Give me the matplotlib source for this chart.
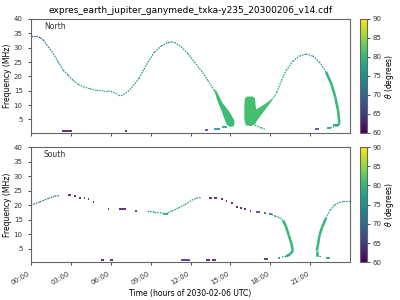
import numpy as np
import matplotlib
matplotlib.use('Agg')
import matplotlib.pyplot as plt
from matplotlib.collections import LineCollection
from matplotlib.colors import Normalize

# =============================================================================
# Data (time in hours of 2030-02-06, frequency in MHz, theta in degrees)
# =============================================================================

title = 'expres_earth_jupiter_ganymede_txka-y235_20300206_v14.cdf'
hemispheres = ['North', 'South']
tick_hours = [0, 3, 6, 9, 12, 15, 18, 21]
tick_labels = ['00:00', '03:00', '06:00', '09:00', '12:00', '15:00', '18:00', '21:00']

# --- North: thin tracks (nan separates tracks)
north_t = [0.0, 0.4, 0.7, 0.93, 1.3, 1.68, 2.05, 2.43, 2.8, 3.18, 3.56, 3.93, 4.44, 4.94, 5.4, 5.8,
           6.19, 6.56, 6.94, 7.3, 7.7, 8.14, 8.5, 8.8, 9.3, 9.8, 10.3, 10.55, 10.8, 11.3, 11.8,
           12.3, 12.8, 13.3, 13.8, np.nan,
           18.25, 18.5, 18.85, 19.2, 19.7, 20.2, 20.7, 21.2, 21.7, 22.2, np.nan,
           23.0, 22.5, np.nan,
           16.85, 17.3, 17.6]
north_f = [34.0, 34.0, 33.5, 32.6, 30.3, 28.0, 25.0, 22.1, 20.4, 18.6, 17.2, 16.4, 15.7, 15.1, 15.0, 15.0,
           14.5, 13.7, 13.7, 14.7, 16.8, 19.4, 22.5, 25.0, 28.5, 30.6, 31.8, 32.0, 31.8, 30.3, 28.0,
           25.0, 22.1, 18.6, 15.1, np.nan,
           12.6, 14.5, 18.6, 22.1, 25.3, 27.1, 27.8, 27.1, 25.0, 21.5, np.nan,
           2.8, 2.1, np.nan,
           3.0, 2.1, 1.6]
north_th = [68, 68, 69, 71, 73, 74, 75, 75, 76, 76, 77, 77, 77, 77, 77, 77,
            76, 76, 76, 76, 76, 76, 75, 75, 75, 74, 73, 72, 73, 74, 75,
            75, 76, 77, 79, np.nan,
            80, 78, 77, 76, 76, 75, 75, 75, 76, 78, np.nan,
            77, 76, np.nan,
            77, 76, 76]

# --- North: thick tracks
north_thick_t = [22.2, 22.6, 22.9, 23.1, 23.2, 23.15, 23.0]
north_thick_f = [21.5, 17.4, 12.7, 8.1, 4.0, 3.2, 2.8]
north_thick_th = [79, 80, 80, 80, 80, 79, 78]

# --- North: short dashes (frequency, start, end, theta)
north_dash_f = [0.9, 0.9, 1.3, 1.8, 2.3, 1.6, 2.1, 3.0]
north_dash_t0 = [2.3, 7.07, 13.1, 13.8, 14.35, 21.35, 22.3, 22.75]
north_dash_t1 = [3.1, 7.2, 13.3, 14.2, 14.75, 21.7, 22.6, 23.0]
north_dash_th = [61, 61, 67, 75, 76, 67, 76, 77]

# --- North: filled emission regions
band_t = [13.75, 14.08, 14.38, 14.6, 14.72, 14.9, 15.2, 15.3, 15.3, 14.96, 14.4, 13.95]
band_f = [15.5, 10.8, 7.5, 4.6, 3.3, 2.5, 2.5, 3.3, 4.6, 7.5, 10.8, 15.0]
band_th = 80.5
blob_t = [16.25, 16.7, 16.85, 16.9, 16.95, 17.6, 18.25, 18.2, 17.6, 17.0, 16.85, 16.5, 16.15, 16.05, 16.05, 16.1]
blob_f = [13.0, 13.0, 12.3, 10.0, 8.5, 10.4, 12.6, 12.0, 8.3, 4.6, 3.2, 2.7, 3.0, 5.0, 10.0, 12.4]
blob_th = 81

# --- South: thin tracks
south_t = [0.0, 0.68, 1.3, 1.8, 2.13, np.nan,
           8.7, 9.2, 9.3, 9.95, 10.3, 10.6, 11.1, 11.6, 12.1, 12.45, 12.8, np.nan,
           18.1, 18.35, 18.7, 18.97, np.nan,
           19.2, 18.8, np.nan,
           22.2, 22.5, 22.85, 23.2, 23.5, 24.0, np.nan,
           21.5, 21.85]
south_f = [20.0, 21.1, 22.3, 23.1, 23.3, np.nan,
           17.8, 17.8, 17.4, 17.3, 17.3, 18.0, 19.0, 20.2, 21.7, 22.4, 22.6, np.nan,
           16.8, 16.2, 15.7, 14.7, np.nan,
           2.3, 2.1, np.nan,
           15.5, 18.2, 20.0, 20.9, 21.25, 21.25, np.nan,
           2.5, 2.2]
south_th = [71, 71, 71, 71, 70, np.nan,
            72, 73, 76, 77, 78, 78, 77, 77, 76, 74, 71, np.nan,
            72, 73, 75, 78, np.nan,
            76, 76, np.nan,
            78, 77, 76, 76, 75, 75, np.nan,
            77, 77]

# --- South: thick tracks
south_thick_t = [18.97, 19.2, 19.4, 19.6, 19.7, 19.5, 19.2, np.nan,
                 21.5, 21.5, 21.6, 21.7, 21.9, 22.2]
south_thick_f = [14.7, 12.4, 9.5, 6.6, 4.3, 3.1, 2.3, np.nan,
                 2.5, 4.3, 6.6, 9.5, 12.4, 15.5]
south_thick_th = [79, 80, 80, 80, 80, 79, 77, np.nan,
                  79, 80, 80, 80, 80, 79]

# --- South: short dashes
south_dash_f = [23.3, 23.0, 22.6, 22.3, 21.95, 21.1, 18.8, 18.5, 18.1,
                17.1, 22.6, 22.3, 21.95, 21.4, 20.6, 19.5, 19.0, 18.8, 18.1,
                17.6, 17.3, 16.8, 1.9, 1.4, 1.7,
                1.05, 1.05, 1.05, 1.05, 1.05]
south_dash_t0 = [2.8, 3.25, 3.6, 3.97, 4.27, 4.65, 5.77, 6.64, 7.8,
                 9.9, 13.4, 13.8, 14.3, 14.67, 15.07, 15.45, 15.75, 16.05, 16.45,
                 16.95, 17.5, 17.9, 18.55, 17.5, 22.2,
                 5.3, 5.94, 11.3, 13.2, 13.65]
south_dash_t1 = [3.0, 3.4, 3.75, 4.06, 4.36, 4.74, 5.86, 7.14, 8.0,
                 10.3, 13.6, 14.0, 14.42, 14.76, 15.16, 15.55, 15.85, 16.15, 16.55,
                 17.2, 17.7, 18.1, 18.7, 17.8, 22.5,
                 5.5, 6.14, 11.95, 13.5, 13.9]
south_dash_th = [61, 61, 61, 61, 61, 61, 61, 61, 62,
                 78, 61, 61, 61, 61, 61, 61, 61, 61, 61,
                 65, 68, 72, 75, 62, 76,
                 61, 61, 63, 61, 61]

# =============================================================================
# Plot
# =============================================================================

cmap = plt.get_cmap('viridis')
norm = Normalize(vmin=60, vmax=90)


def add_track(ax, t, f, th, lw, ls='-'):
    t = np.asarray(t, dtype=float)
    f = np.asarray(f, dtype=float)
    th = np.asarray(th, dtype=float)
    segs, cols = [], []
    for i in range(len(t) - 1):
        if np.isnan(t[i]) or np.isnan(t[i + 1]):
            continue
        segs.append([(t[i], f[i]), (t[i + 1], f[i + 1])])
        cols.append(cmap(norm((th[i] + th[i + 1]) / 2)))
    ax.add_collection(LineCollection(segs, colors=cols, linewidths=lw,
                                     linestyles=ls, capstyle='butt'))


def add_dashes(ax, f, t0, t1, th):
    ax.hlines(f, t0, t1, colors=[cmap(norm(v)) for v in th], linewidth=1.2)


fig = plt.figure(figsize=(4, 3), dpi=100)
ax_n = fig.add_axes([0.0775, 0.5567, 0.7975, 0.38])
ax_s = fig.add_axes([0.0775, 0.1257, 0.7975, 0.3843])
cax_n = fig.add_axes([0.9, 0.5567, 0.0175, 0.38])
cax_s = fig.add_axes([0.9, 0.1257, 0.0175, 0.3843])

dotted = (0, (1.2, 0.9))

# North
add_track(ax_n, north_t, north_f, north_th, 0.9, dotted)
add_track(ax_n, north_thick_t, north_thick_f, north_thick_th, 1.8)
add_dashes(ax_n, north_dash_f, north_dash_t0, north_dash_t1, north_dash_th)
ax_n.fill(band_t, band_f, color=cmap(norm(band_th)), lw=0)
ax_n.fill(blob_t, blob_f, color=cmap(norm(blob_th)), lw=0)

# South
add_track(ax_s, south_t, south_f, south_th, 0.9, dotted)
add_track(ax_s, south_thick_t, south_thick_f, south_thick_th, 1.8)
add_dashes(ax_s, south_dash_f, south_dash_t0, south_dash_t1, south_dash_th)

for ax, cax, name in zip([ax_n, ax_s], [cax_n, cax_s], hemispheres):
    ax.set_xlim(0, 24)
    ax.set_ylim(0.3, 40)
    ax.set_yticks([5, 10, 15, 20, 25, 30, 35, 40])
    ax.set_xticks(tick_hours)
    ax.set_ylabel('Frequency (MHz)', fontsize=5.5, labelpad=1)
    ax.tick_params(labelsize=5, length=2.5, width=0.6, colors='#333333')
    for sp in ax.spines.values():
        sp.set_color('#666666')
        sp.set_linewidth(0.8)
    ax.text(0.04, 0.91, name, transform=ax.transAxes, fontsize=5.5, color='#333333')

    sm = plt.cm.ScalarMappable(norm=norm, cmap=cmap)
    cb = fig.colorbar(sm, cax=cax, ticks=[60, 65, 70, 75, 80, 85, 90])
    cb.ax.tick_params(labelsize=5, length=2.5, width=0.6, colors='#333333', pad=1.5)
    cb.outline.set_edgecolor('#666666')
    cb.outline.set_linewidth(0.8)
    cb.set_label(r'$\theta$ (degrees)', fontsize=5.5, labelpad=1)

ax_n.set_xticklabels([])
ax_s.set_xticklabels(tick_labels, rotation=30, ha='right')
ax_s.set_xlabel('Time (hours of 2030-02-06 UTC)', fontsize=5.5, labelpad=2)
ax_n.set_title(title, fontsize=6.5, pad=4)

fig.savefig('out.png', dpi=100)
